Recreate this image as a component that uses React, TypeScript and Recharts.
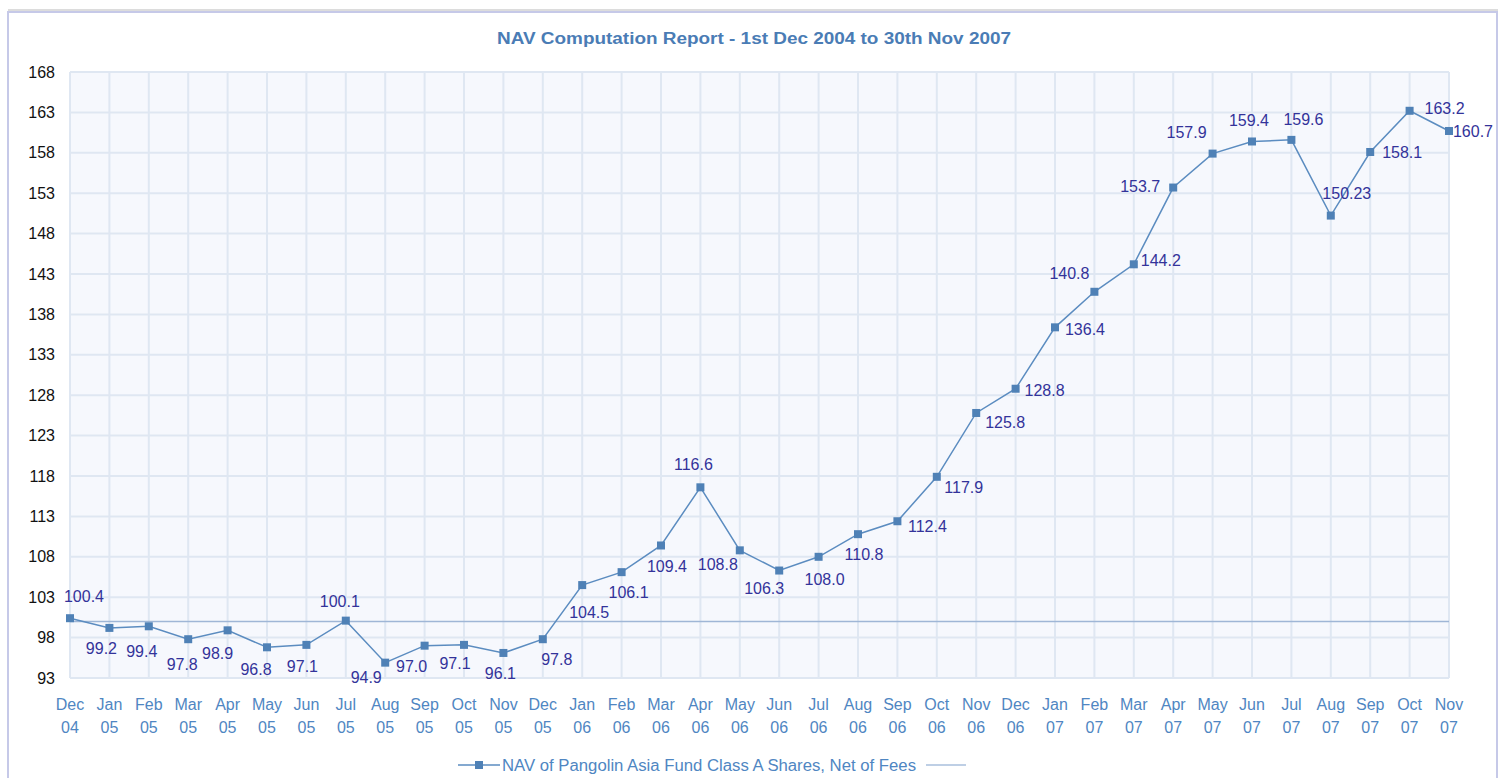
import React from 'react';
import {
  CartesianGrid,
  LabelList,
  Line,
  LineChart,
  ReferenceLine,
  XAxis,
  YAxis,
} from 'recharts';

const months = [
  'Dec 04', 'Jan 05', 'Feb 05', 'Mar 05', 'Apr 05', 'May 05', 'Jun 05', 'Jul 05', 'Aug 05',
  'Sep 05', 'Oct 05', 'Nov 05', 'Dec 05', 'Jan 06', 'Feb 06', 'Mar 06', 'Apr 06', 'May 06',
  'Jun 06', 'Jul 06', 'Aug 06', 'Sep 06', 'Oct 06', 'Nov 06', 'Dec 06', 'Jan 07', 'Feb 07',
  'Mar 07', 'Apr 07', 'May 07', 'Jun 07', 'Jul 07', 'Aug 07', 'Sep 07', 'Oct 07', 'Nov 07',
];

const navValues = [
  100.4, 99.2, 99.4, 97.8, 98.9, 96.8, 97.1, 100.1, 94.9,
  97.0, 97.1, 96.1, 97.8, 104.5, 106.1, 109.4, 116.6, 108.8,
  106.3, 108.0, 110.8, 112.4, 117.9, 125.8, 128.8, 136.4, 140.8,
  144.2, 153.7, 157.9, 159.4, 159.6, 150.23, 158.1, 163.2, 160.7,
];

const yTicks = [93, 98, 103, 108, 113, 118, 123, 128, 133, 138, 143, 148, 153, 158, 163, 168];

const baseline = 100;

// where each value label sits relative to its point (dx, dy of label centre)
const labelOffsets: [number, number][] = [
  [14, -22], [-8, 20], [-7, 25], [-6, 25], [-10, 23], [-11, 22], [-4, 21], [-6, -19], [-19, 15],
  [-13, 21], [-9, 18], [-3, 20], [14, 20], [7, 27], [7, 20], [6, 21], [-7, -23], [-22, 14],
  [-15, 18], [6, 22], [6, 20], [30, 5], [27, 10], [29, 9], [29, 2], [30, 2], [-25, -19],
  [27, -4], [-33, -1], [-26, -21], [-3, -21], [12, -21], [16, -22], [32, 0], [35, -3], [24, 0],
];

const data = months.map((month, i) => ({ month, nav: navValues[i] }));

const FONT = '"Liberation Sans", Arial, sans-serif';
const LINE_COLOR = '#5b8cc0';
const MARKER_COLOR = '#4f81b6';
const LABEL_COLOR = '#33339a';
const AXIS_COLOR = '#4f86c2';

function formatValue(v: number) {
  const scaled = v * 10;
  return Math.abs(scaled - Math.round(scaled)) < 1e-6 ? v.toFixed(1) : String(v);
}

function MonthTick(props: any) {
  const { x, y, payload } = props;
  const [mon, yr] = String(payload.value).split(' ');
  return (
    <g>
      <text x={x} y={y + 24} textAnchor="middle" fill={AXIS_COLOR} fontSize={16} fontFamily={FONT}>
        {mon}
      </text>
      <text x={x} y={y + 47} textAnchor="middle" fill={AXIS_COLOR} fontSize={16} fontFamily={FONT}>
        {yr}
      </text>
    </g>
  );
}

function SquareDot(props: any) {
  const { cx, cy } = props;
  if (cx == null || cy == null) return null;
  return <rect x={cx - 4} y={cy - 4} width={8} height={8} fill={MARKER_COLOR} />;
}

function ValueLabel(props: any) {
  const { x, y, value, index } = props;
  const [dx, dy] = labelOffsets[index] || [0, -18];
  return (
    <text
      x={x + dx}
      y={y + dy}
      dy="0.36em"
      textAnchor="middle"
      fill={LABEL_COLOR}
      fontSize={16}
      fontFamily={FONT}
    >
      {formatValue(value)}
    </text>
  );
}

export default function App() {
  return (
    <div
      style={{
        position: 'absolute',
        left: 0,
        top: 0,
        width: 1506,
        height: 778,
        background: '#ffffff',
        overflow: 'hidden',
        fontFamily: FONT,
      }}
    >
      <LineChart
        width={1506}
        height={778}
        data={data}
        margin={{ top: 72, right: 57, left: 10, bottom: 40 }}
      >
        <CartesianGrid stroke="#dfe7f2" strokeWidth={2} fill="#f6f8fd" />
        <XAxis
          dataKey="month"
          interval={0}
          axisLine={false}
          tickLine={false}
          height={60}
          tick={<MonthTick />}
        />
        <YAxis
          type="number"
          domain={[93, 168]}
          ticks={yTicks}
          interval={0}
          width={60}
          axisLine={false}
          tickLine={false}
          tickMargin={9}
          tick={{ fill: '#111', fontSize: 16, fontFamily: FONT }}
        />
        <ReferenceLine y={baseline} stroke="#9fb6d6" strokeWidth={1.5} />
        <Line
          type="linear"
          dataKey="nav"
          stroke={LINE_COLOR}
          strokeWidth={1.5}
          dot={<SquareDot />}
          activeDot={false}
          isAnimationActive={false}
        >
          <LabelList dataKey="nav" content={<ValueLabel />} />
        </Line>
      </LineChart>

      <svg
        width={1506}
        height={778}
        style={{ position: 'absolute', left: 0, top: 0, pointerEvents: 'none' }}
      >
        <line x1={8} y1={10} x2={1498} y2={10} stroke="#b9b9b9" strokeWidth={1} />
        <rect x={8} y={12} width={1489} height={800} fill="none" stroke="#c6c9e8" strokeWidth={2} />
        <text
          x={754}
          y={44}
          textAnchor="middle"
          fill="#4a7cb5"
          fontSize={16}
          fontWeight="bold"
          fontFamily={FONT}
          textLength={514}
          lengthAdjust="spacingAndGlyphs"
        >
          NAV Computation Report - 1st Dec 2004 to 30th Nov 2007
        </text>
        <g>
          <line x1={458} y1={765} x2={500} y2={765} stroke={LINE_COLOR} strokeWidth={1.5} />
          <rect x={475} y={761} width={8} height={8} fill={MARKER_COLOR} />
          <text
            x={502}
            y={771}
            fill={AXIS_COLOR}
            fontSize={16}
            fontFamily={FONT}
            textLength={414}
            lengthAdjust="spacingAndGlyphs"
          >
            NAV of Pangolin Asia Fund Class A Shares, Net of Fees
          </text>
          <line x1={926} y1={765} x2={966} y2={765} stroke="#a9bfdd" strokeWidth={1.5} />
        </g>
      </svg>
    </div>
  );
}
